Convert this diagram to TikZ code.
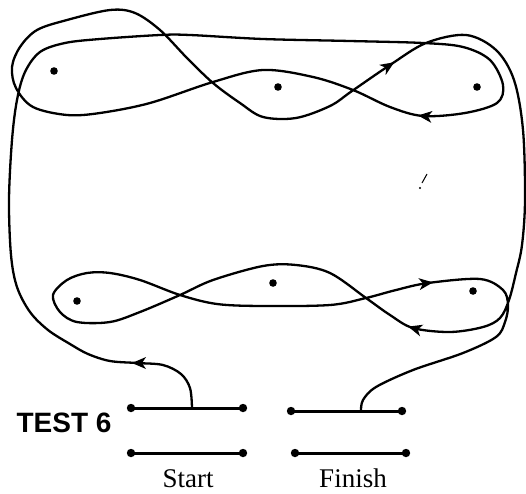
\documentclass[tikz,border=0pt]{standalone}
\usepackage{fontspec}
\setmainfont{Liberation Serif}
\setsansfont{Liberation Sans}
\usetikzlibrary{calc}

\tikzset{
  trail/.style={line width=2.3pt, line cap=round, line join=round},
  bar/.style={line width=3pt},
  tip/.pic={\fill (5,0) -- (-9,6) -- (-5,0) -- (-9,-6) -- cycle;}
}

\begin{document}
\begin{tikzpicture}[x=1pt,y=-1pt]
    \useasboundingbox (0,0) rectangle (526,493);

    % start and finish contacts
    \coordinate (sa) at (131,408); \coordinate (sb) at (243,408);
    \coordinate (sc) at (131,453); \coordinate (sd) at (243,453);
    \coordinate (fa) at (291,411); \coordinate (fb) at (402,411);
    \coordinate (fc) at (295,453); \coordinate (fd) at (406,453);
    \draw[bar] (sa) -- (sb) (sc) -- (sd) (fa) -- (fb) (fc) -- (fd);
    \foreach \p in {sa,sb,sc,sd,fa,fb,fc,fd}
        \fill (\p) circle (4.2);

    \node (test) at (64,423) {\sffamily\bfseries\fontsize{28}{30}\selectfont TEST 6};
    \node (start) at (188,479) {\fontsize{27}{29}\selectfont Start};
    \node (finish) at (353,478) {\fontsize{27}{29}\selectfont Finish};

    % the dots round which the line winds
    \foreach \x/\y in {54/71, 278/87, 477/87, 77/301, 273/283, 473/291}
        \fill (\x,\y) circle (3.8);

    % the line, from start to finish
    \coordinate (go) at (192,408);
    \coordinate (stop) at (361,411);
    \draw[trail] plot[smooth, tension=0.55] coordinates {
        (go) (190,388) (181,374) (163,365) (137,363) (110,361) (88,354)
        (70,344) (48,330) (30,312) (17,287) (11,255) (9,200) (12,140)
        (17,100) (25,72) (40,52) (65,43) (100,39) (160,35) (190,35)
        (263,39) (350,41) (423,43) (463,47) (490,60) (503,85) (497,103)
        (465,113) (423,116) (390,107) (353,90) (313,77) (263,70)
        (213,82) (150,103) (100,113) (67,115) (33,107) (16,88) (12,67)
        (20,47) (37,30) (67,20) (110,10) (135,13) (160,30) (187,58)
        (213,83) (240,103) (263,117) (296,118) (330,106) (352,91)
        (390,65) (426,43) (466,35) (496,50) (514,80) (523,130)
        (525,200) (522,245) (516,273) (509,300) (500,318) (483,327)
        (450,332) (413,328) (390,315) (366,298) (330,273) (296,265)
        (263,266) (213,280) (180,295) (140,312) (110,322) (77,322)
        (60,312) (53,295) (67,280) (87,273) (110,273) (140,280)
        (180,295) (217,304) (263,306) (330,305) (366,298) (396,290)
        (428,283) (480,279) (503,290) (508,305) (505,322) (496,337)
        (463,353) (413,370) (376,387) (363,400) (stop)
    };

    % arrowheads along the line
    \pic[rotate=180] at (137,363) {tip};
    \pic[rotate=174] at (423,116) {tip};
    \pic[rotate=33]  at (390,65)  {tip};
    \pic[rotate=164] at (413,328) {tip};
    \pic[rotate=7]   at (428,283) {tip};

    % stray pencil mark
    \draw[line width=1pt] (427,174) -- (422,183);
    \fill (420,188) circle (1.2);
\end{tikzpicture}
\end{document}
